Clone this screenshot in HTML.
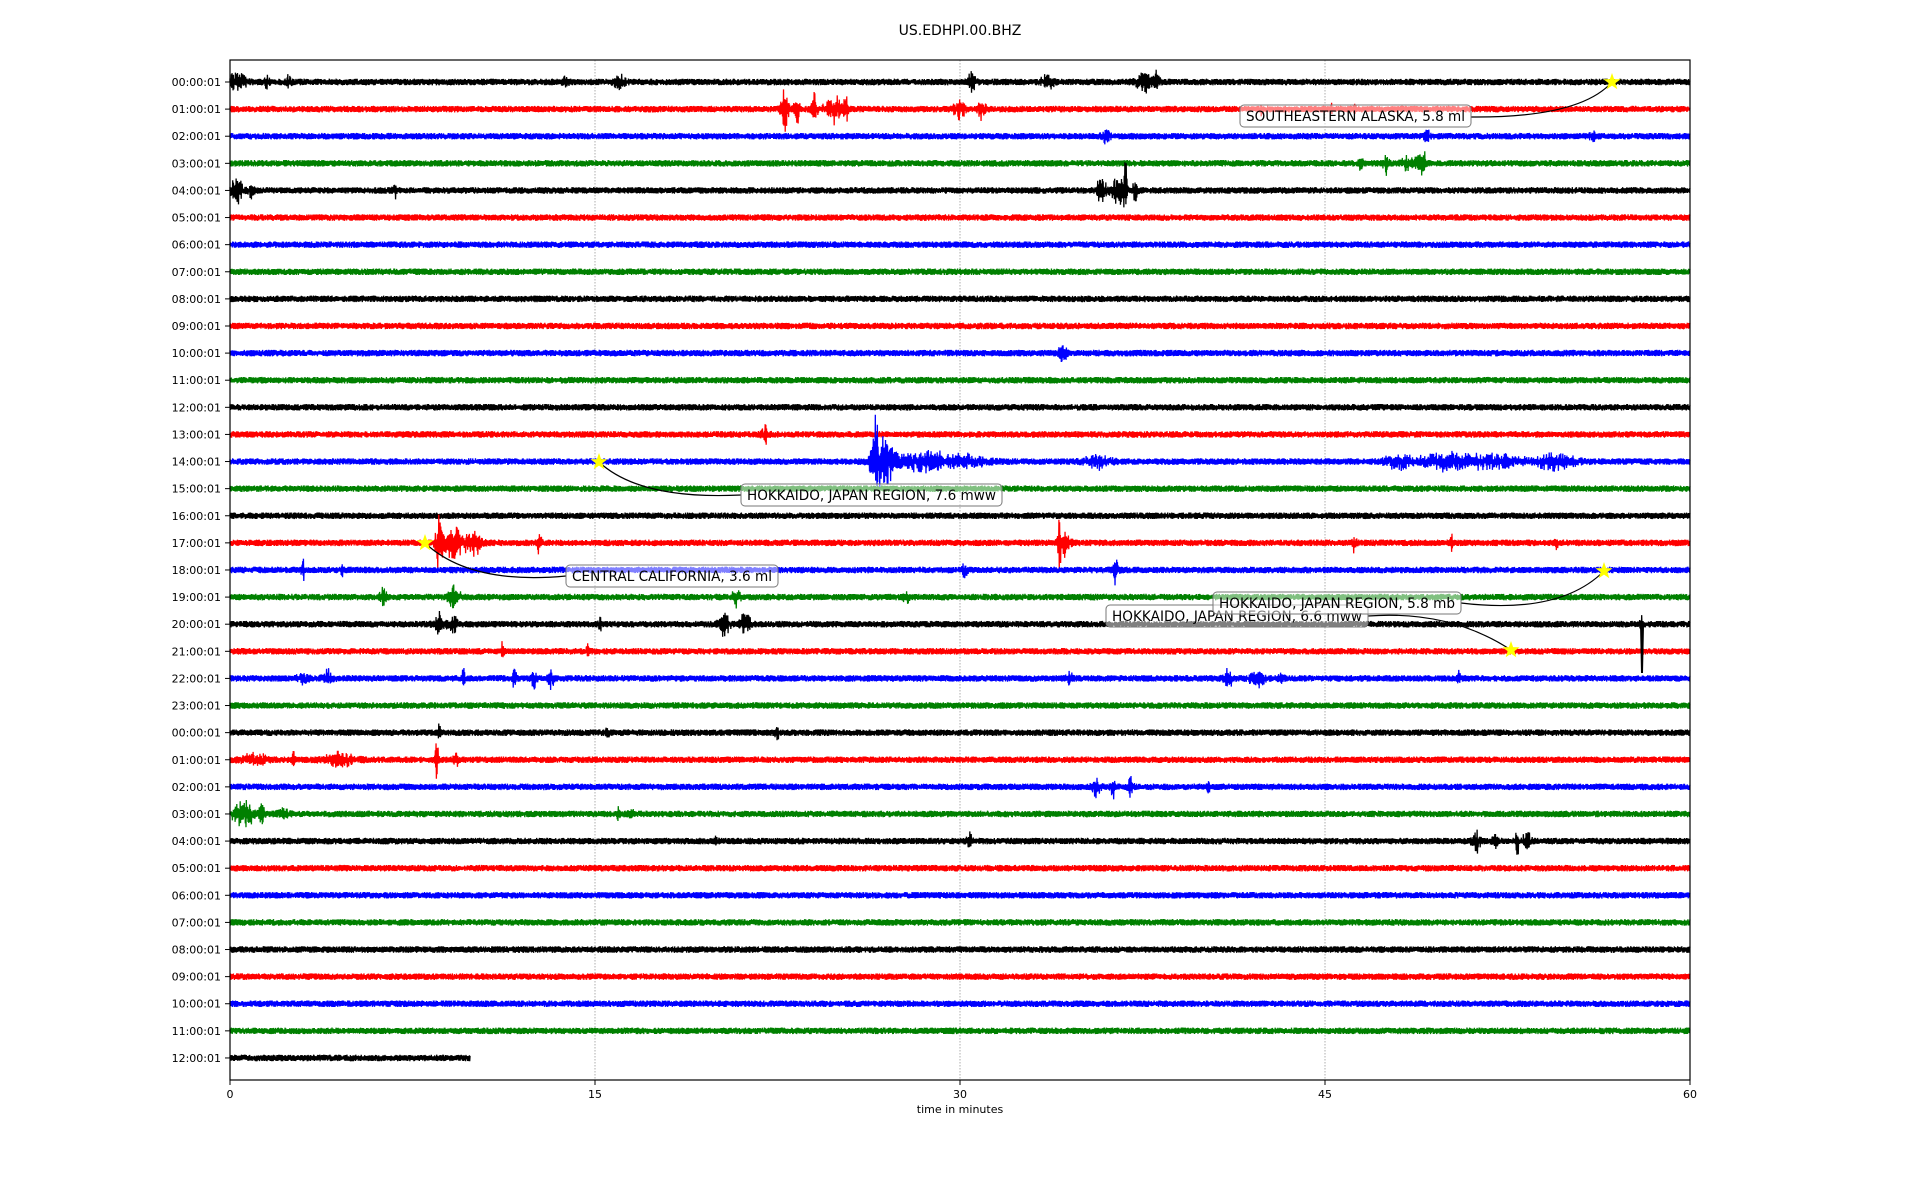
<!DOCTYPE html>
<html><head><meta charset="utf-8">
<style>
html,body{margin:0;padding:0;background:#fff;}
svg{display:block;font-family:"DejaVu Sans","Liberation Sans",sans-serif;}
</style></head>
<body>
<svg id="s" width="1920" height="1200" viewBox="0 0 1920 1200" xmlns="http://www.w3.org/2000/svg">
<rect width="1920" height="1200" fill="#fff"/>
<text x="960" y="35" font-size="14" text-anchor="middle">US.EDHPI.00.BHZ</text>
<g id="grid" stroke="#999" stroke-width="0.8" stroke-dasharray="1.5,1.5">
<line x1="595" y1="60" x2="595" y2="1080"/>
<line x1="960" y1="60" x2="960" y2="1080"/>
<line x1="1325" y1="60" x2="1325" y2="1080"/>
</g>
<g id="traces"></g>
<g id="yt" font-size="11" text-anchor="end"></g>
<rect x="230" y="60" width="1460" height="1020" fill="none" stroke="#000" stroke-width="1.2"/>
<g font-size="11" text-anchor="middle">
<line x1="230" y1="1080" x2="230" y2="1085" stroke="#000"/><text x="230" y="1098">0</text>
<line x1="595" y1="1080" x2="595" y2="1085" stroke="#000"/><text x="595" y="1098">15</text>
<line x1="960" y1="1080" x2="960" y2="1085" stroke="#000"/><text x="960" y="1098">30</text>
<line x1="1325" y1="1080" x2="1325" y2="1085" stroke="#000"/><text x="1325" y="1098">45</text>
<line x1="1690" y1="1080" x2="1690" y2="1085" stroke="#000"/><text x="1690" y="1098">60</text>
<text x="960" y="1113">time in minutes</text>
</g>
<g id="ann" font-size="14"></g>
</svg>
<script>
(function(){
var ns="http://www.w3.org/2000/svg";
var seed=12345;function rnd(){seed|=0;seed=seed+0x6D2B79F5|0;var t=Math.imul(seed^seed>>>15,1|seed);t=t+Math.imul(t^t>>>7,61|t)^t;return((t^t>>>14)>>>0)/4294967296;}
var L=230,W=1460,y0=82,dy=27.11;
var cols=["#000","#f00","#00f","#008000"];
var ev=[[0,0.3,8,0.3],[0,1.5,5,0.1],[0,2.4,5,0.1],[0,13.8,5,0.1],[0,16,7,0.2],[0,30.5,9,0.15],[0,33.6,7,0.2],[0,37.6,10,0.3],[0,38.1,12,0.1],
[1,22.8,22,0.15],[1,23.3,18,0.1],[1,24.0,20,0.1],[1,24.8,12,0.3],[1,25.3,10,0.1],[1,30.0,10,0.2],[1,30.9,10,0.15],[1,42.4,6,0.05],[1,45.3,6,0.05],[1,46.2,6,0.05],
[2,36,7,0.15],[2,49.2,7,0.1],[2,56,6,0.1],
[3,46.5,6,0.1],[3,47.5,10,0.1],[3,48.5,8,0.3],[3,49.0,12,0.15],
[4,0.3,14,0.2],[4,0.9,10,0.1],[4,6.8,5,0.1],[4,35.8,10,0.2],[4,36.5,12,0.3],[4,36.8,22,0.06],[4,37.2,10,0.1],
[10,34.2,9,0.15],[13,22,7,0.15],
[14,26.5,35,0.15],[14,27,22,0.5],[14,28.5,8,0.8],[14,30,5,1],[14,35.7,5,0.5],[14,48,5,0.5],[14,50,6,1.2],[14,52,5,1],[14,54.5,6,0.8],
[17,8.6,28,0.15],[17,9.2,20,0.3],[17,10,12,0.3],[17,12.7,8,0.1],[17,34.1,22,0.08],[17,34.3,12,0.2],[17,46.2,7,0.08],[17,50.2,10,0.05],[17,54.5,6,0.05],
[18,3,10,0.06],[18,4.6,6,0.05],[18,30.2,7,0.1],[18,36.4,12,0.1],
[19,6.3,8,0.12],[19,9.2,10,0.2],[19,20.8,7,0.15],[19,27.8,6,0.1],
[20,8.6,10,0.2],[20,9.2,10,0.15],[20,15.2,9,0.05],[20,20.3,10,0.2],[20,21.2,10,0.2],[20,58,6,0.05],
[21,11.2,9,0.05],[21,14.7,8,0.05],
[22,3,6,0.2],[22,4,6,0.2],[22,9.6,9,0.05],[22,11.7,9,0.1],[22,12.5,9,0.1],[22,13.2,11,0.1],[22,34.5,7,0.1],[22,41,7,0.2],[22,42.2,9,0.3],[22,43.2,6,0.1],[22,50.5,6,0.05],
[24,8.6,8,0.05],[24,15.5,5,0.1],[24,22.5,5,0.1],
[25,1,5,0.5],[25,2.6,8,0.05],[25,4.5,6,0.6],[25,8.5,30,0.05],[25,9.3,7,0.1],
[26,35.6,10,0.15],[26,36.3,8,0.1],[26,37,10,0.1],[26,40.2,6,0.05],
[27,0.6,12,0.4],[27,1.3,12,0.1],[27,2.2,6,0.2],[27,16,7,0.08],[27,16.5,5,0.1],
[28,20,5,0.05],[28,30.4,7,0.1],[28,51.2,9,0.15],[28,52,8,0.1],[28,52.9,20,0.05],[28,53.3,8,0.15]];
var tg=document.getElementById("traces"),yt=document.getElementById("yt");
for(var r=0;r<37;r++){
 var y=y0+r*dy;var my=ev.filter(function(e){return e[0]==r;});
 var end=(r==36)?(9.87/60*W):W;
 var d="M"+L+" "+y.toFixed(1);var sg=1;
 for(var px=0;px<=end;px+=0.34){
  var t=px/W*60;var a=3.3;
  for(var k=0;k<my.length;k++){var e=my[k];var z=(t-e[1])/e[3];if(Math.abs(z)<4)a+=e[2]*Math.exp(-z*z);}
  sg=-sg;var n=sg*(0.35+0.65*rnd());if(a>4.5)n*=(0.3+0.9*rnd());
  d+="L"+(L+px).toFixed(2)+" "+(y+n*a).toFixed(1);
 }
 var p=document.createElementNS(ns,"path");p.setAttribute("d",d);p.setAttribute("fill","none");
 p.setAttribute("stroke",cols[r%4]);p.setAttribute("stroke-width","1.3");tg.appendChild(p);
 var tk=document.createElementNS(ns,"line");tk.setAttribute("x1",225);tk.setAttribute("x2",230);tk.setAttribute("y1",y);tk.setAttribute("y2",y);tk.setAttribute("stroke","#000");yt.appendChild(tk);
 var h=(r<24?r:r-24);var tx=document.createElementNS(ns,"text");tx.setAttribute("x",221);tx.setAttribute("y",y+4);
 tx.textContent=(h<10?"0":"")+h+":00:01";yt.appendChild(tx);
}
var sp=document.createElementNS(ns,"path");sp.setAttribute("d","M1641 624 L1642 673 L1643 626");sp.setAttribute("stroke","#000");sp.setAttribute("stroke-width","2");sp.setAttribute("fill","none");tg.appendChild(sp);
var ann=document.getElementById("ann");
function star(cx,cy){var s="";for(var i=0;i<10;i++){var rr=i%2?3.6:9;var an=-Math.PI/2+i*Math.PI/5;s+=(cx+rr*Math.cos(an)).toFixed(1)+","+(cy+rr*Math.sin(an)).toFixed(1)+" ";}
 var g=document.createElementNS(ns,"polygon");g.setAttribute("points",s);g.setAttribute("fill","#ff0");ann.appendChild(g);}
function box(x1,x2,cy,txt){var b=document.createElementNS(ns,"rect");b.setAttribute("y",cy-11);b.setAttribute("height",22);b.setAttribute("rx",4);
 b.setAttribute("fill","rgba(255,255,255,0.5)");b.setAttribute("stroke","#777");b.setAttribute("stroke-width","1");ann.appendChild(b);
 var t=document.createElementNS(ns,"text");t.setAttribute("y",cy+5);t.textContent=txt;ann.appendChild(t);
 var w=x2-x1-12;t.setAttribute("x",x1+6);t.setAttribute("textLength",w);t.setAttribute("lengthAdjust","spacingAndGlyphs");
 b.setAttribute("x",x1);b.setAttribute("width",x2-x1);}
function curve(d){var p=document.createElementNS(ns,"path");p.setAttribute("d",d);p.setAttribute("fill","none");p.setAttribute("stroke","#000");p.setAttribute("stroke-width","1.2");ann.appendChild(p);}
curve("M1612 82 Q1580 118 1471 117");box(1240,1471,116,"SOUTHEASTERN ALASKA, 5.8 ml");star(1612,82);
curve("M599 462 Q640 500 741 495");box(741,1002,495,"HOKKAIDO, JAPAN REGION, 7.6 mww");star(599,462);
curve("M425 543 Q470 585 566 576");box(566,778,576,"CENTRAL CALIFORNIA, 3.6 ml");star(425,543);
curve("M1511 650 Q1450 610 1368 616");box(1106,1368,616,"HOKKAIDO, JAPAN REGION, 6.6 mww");
curve("M1604 571 Q1560 615 1461 603");box(1213,1461,603,"HOKKAIDO, JAPAN REGION, 5.8 mb");star(1604,571);
star(1511,650);
})();
</script>
</body></html>
